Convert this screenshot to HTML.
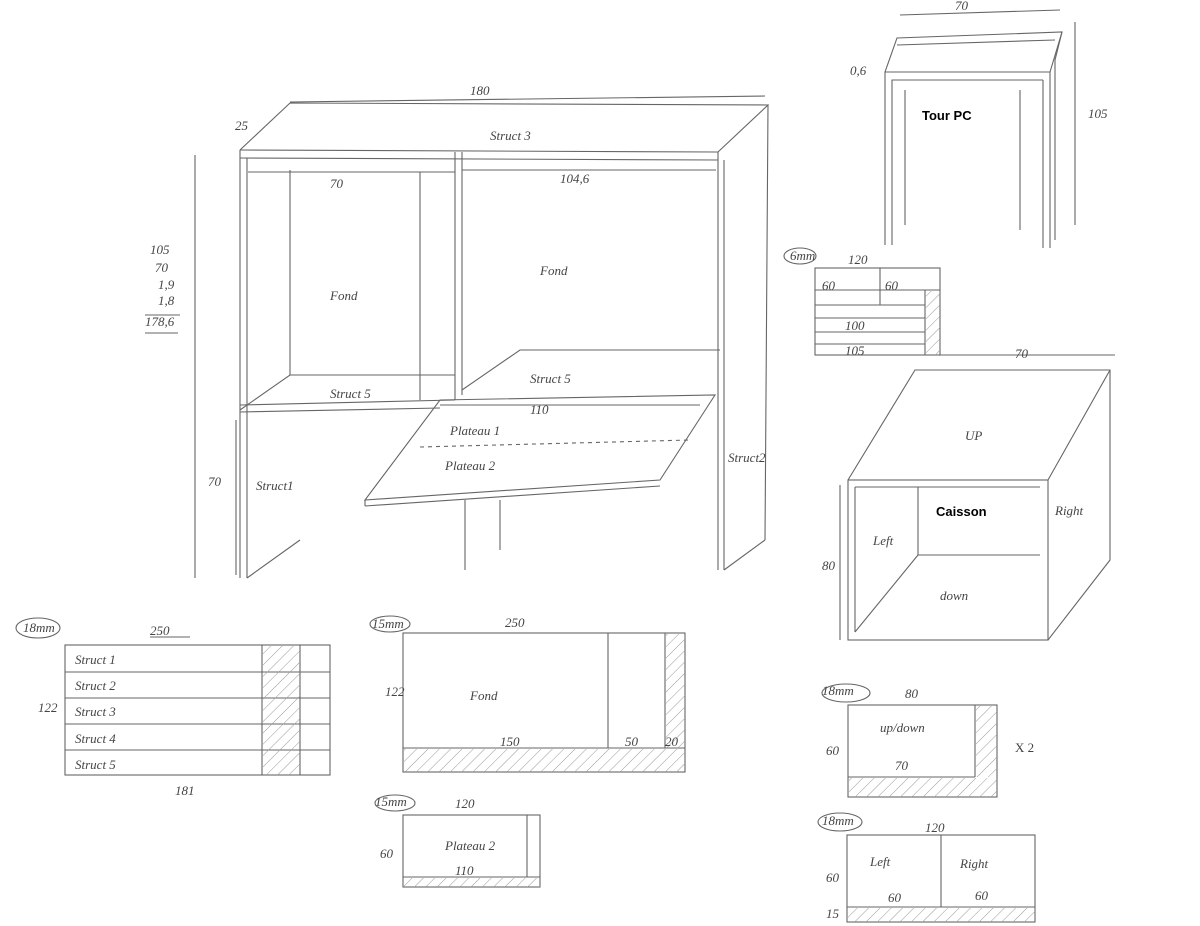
<!DOCTYPE html>
<html><head><meta charset="utf-8"><style>
html,body{margin:0;padding:0;background:#fff;width:1200px;height:926px;overflow:hidden}
svg{display:block}
text{font-family:"Liberation Serif",serif;font-style:italic;fill:#444;font-size:13px}
.b{font-family:"Liberation Sans",sans-serif;font-style:normal;font-weight:bold;fill:#000;font-size:13px}
</style></head><body>
<svg width="1200" height="926" viewBox="0 0 1200 926" xmlns="http://www.w3.org/2000/svg">
<defs>
<pattern id="h" width="8" height="8" patternUnits="userSpaceOnUse" patternTransform="rotate(45)"><line x1="0" y1="0" x2="0" y2="8" stroke="#999" stroke-width="1"/></pattern>
</defs>
<g stroke="#666" stroke-width="1.1" fill="none">
<!-- main desk -->
<polyline points="240,150 290,103 768,105 718,152"/>
<line x1="240" y1="150" x2="718" y2="152"/>
<line x1="240" y1="158" x2="718" y2="160"/>
<line x1="240" y1="150" x2="240" y2="578"/><line x1="247" y1="158" x2="247" y2="578"/>
<line x1="718" y1="152" x2="718" y2="570"/><line x1="724" y1="160" x2="724" y2="570"/>
<line x1="768" y1="105" x2="765" y2="540"/>
<line x1="455" y1="152" x2="455" y2="400"/><line x1="462" y1="152" x2="462" y2="395"/>
<line x1="290" y1="170" x2="290" y2="375"/>
<polyline points="240,410 290,375 455,375"/>
<line x1="240" y1="405" x2="455" y2="400"/>
<line x1="240" y1="412" x2="440" y2="408"/>
<polyline points="462,390 520,350 720,350"/>
<line x1="247" y1="578" x2="300" y2="540"/>
<line x1="724" y1="570" x2="765" y2="540"/>
<polygon points="440,400 715,395 660,480 365,500"/>
<line x1="365" y1="500" x2="365" y2="506"/><line x1="365" y1="506" x2="660" y2="486"/>
<line x1="420" y1="447" x2="690" y2="440" stroke-dasharray="4,4"/>
<line x1="465" y1="500" x2="465" y2="570"/><line x1="500" y1="500" x2="500" y2="550"/>
<!-- dims -->
<line x1="195" y1="155" x2="195" y2="578"/>
<line x1="290" y1="102" x2="765" y2="96"/>
<line x1="248" y1="172" x2="455" y2="172"/>
<line x1="462" y1="170" x2="716" y2="170"/>
<line x1="420" y1="172" x2="420" y2="400"/>
<line x1="236" y1="420" x2="236" y2="575"/>
<line x1="440" y1="405" x2="700" y2="405"/>
<line x1="145" y1="315" x2="180" y2="315"/><line x1="145" y1="333" x2="178" y2="333"/>
<!-- tour pc -->
<polyline points="885,245 885,72 1050,72 1050,248"/>
<polyline points="892,245 892,80 1043,80"/>
<line x1="1043" y1="80" x2="1043" y2="248"/>
<polyline points="885,72 897,38 1062,32 1055,60 1055,240"/>
<line x1="897" y1="45" x2="1055" y2="40"/>
<line x1="1050" y1="72" x2="1062" y2="32"/>
<line x1="1075" y1="22" x2="1075" y2="225"/>
<line x1="900" y1="15" x2="1060" y2="10"/>
<line x1="905" y1="225" x2="905" y2="90"/>
<line x1="1020" y1="90" x2="1020" y2="230"/>
<!-- small table top -->
<rect x="815" y="268" width="125" height="87"/>
<line x1="815" y1="290" x2="940" y2="290"/><line x1="815" y1="305" x2="925" y2="305"/>
<line x1="815" y1="318" x2="925" y2="318"/><line x1="815" y1="332" x2="925" y2="332"/>
<line x1="815" y1="344" x2="925" y2="344"/><line x1="880" y1="268" x2="880" y2="305"/>
<line x1="925" y1="290" x2="925" y2="355"/>
<!-- caisson -->
<rect x="848" y="480" width="200" height="160"/>
<polyline points="848,480 915,370 1110,370 1110,560 1048,640"/>
<line x1="1048" y1="480" x2="1110" y2="370"/>
<line x1="855" y1="487" x2="855" y2="632"/><line x1="855" y1="487" x2="1040" y2="487"/>
<line x1="918" y1="487" x2="918" y2="555"/><line x1="918" y1="555" x2="1040" y2="555"/>
<line x1="855" y1="632" x2="918" y2="555"/>
<line x1="840" y1="485" x2="840" y2="640"/>
<line x1="920" y1="355" x2="1115" y2="355"/>
<!-- 18mm table -->
<rect x="65" y="645" width="265" height="130"/>
<line x1="65" y1="672" x2="330" y2="672"/><line x1="65" y1="698" x2="330" y2="698"/>
<line x1="65" y1="724" x2="330" y2="724"/><line x1="65" y1="750" x2="330" y2="750"/>
<line x1="262" y1="645" x2="262" y2="775"/><line x1="300" y1="645" x2="300" y2="775"/>
<line x1="150" y1="637" x2="190" y2="637"/>
<!-- fond 15mm -->
<rect x="403" y="633" width="282" height="139"/>
<line x1="608" y1="633" x2="608" y2="748"/><line x1="403" y1="748" x2="685" y2="748"/>
<line x1="665" y1="633" x2="665" y2="748"/>
<!-- plateau 2 -->
<rect x="403" y="815" width="137" height="72"/>
<line x1="403" y1="877" x2="540" y2="877"/><line x1="527" y1="815" x2="527" y2="877"/>
<!-- up/down -->
<rect x="848" y="705" width="149" height="92"/>
<line x1="848" y1="777" x2="975" y2="777"/><line x1="975" y1="705" x2="975" y2="777"/>
<!-- left/right -->
<rect x="847" y="835" width="188" height="87"/>
<line x1="941" y1="835" x2="941" y2="907"/><line x1="847" y1="907" x2="1035" y2="907"/>
<ellipse cx="38" cy="628" rx="22" ry="10"/><ellipse cx="390" cy="624" rx="20" ry="8"/>
<ellipse cx="395" cy="803" rx="20" ry="8"/><ellipse cx="846" cy="693" rx="24" ry="9"/>
<ellipse cx="840" cy="822" rx="22" ry="9"/><ellipse cx="800" cy="256" rx="16" ry="8"/>
</g>
<g fill="url(#h)" stroke="none">
<rect x="263" y="646" width="37" height="129"/>
<rect x="404" y="749" width="281" height="23"/>
<rect x="666" y="634" width="19" height="114"/>
<rect x="404" y="878" width="136" height="9"/>
<rect x="849" y="778" width="148" height="19"/>
<rect x="976" y="706" width="21" height="71"/>
<rect x="848" y="908" width="187" height="14"/>
<rect x="926" y="291" width="14" height="64"/>
</g>
<text x="470" y="95">180</text><text x="330" y="188">70</text><text x="560" y="183">104,6</text>
<text x="490" y="140">Struct 3</text><text x="330" y="300">Fond</text><text x="540" y="275">Fond</text>
<text x="330" y="398">Struct 5</text><text x="530" y="383">Struct 5</text><text x="530" y="414">110</text>
<text x="450" y="435">Plateau 1</text><text x="445" y="470">Plateau 2</text>
<text x="208" y="486">70</text><text x="256" y="490">Struct1</text><text x="728" y="462">Struct2</text>
<text x="150" y="254">105</text><text x="155" y="272">70</text><text x="158" y="289">1,9</text>
<text x="158" y="305">1,8</text><text x="145" y="326">178,6</text>
<text x="235" y="130">25</text>
<text x="955" y="10">70</text><text x="1088" y="118">105</text><text x="850" y="75">0,6</text>
<text class="b" x="922" y="120">Tour PC</text>
<text x="822" y="290" font-size="11">60</text><text x="885" y="290" font-size="11">60</text>
<text x="848" y="264">120</text><text x="790" y="260" font-size="11">6mm</text>
<text x="845" y="330" font-size="10">100</text><text x="845" y="355" font-size="10">105</text>
<text x="1015" y="358">70</text><text x="965" y="440">UP</text>
<text class="b" x="936" y="516">Caisson</text><text x="873" y="545">Left</text>
<text x="940" y="600">down</text><text x="1055" y="515">Right</text><text x="822" y="570">80</text>
<text x="23" y="632">18mm</text><text x="150" y="635" font-size="15">250</text>
<text x="75" y="664">Struct 1</text><text x="75" y="690">Struct 2</text><text x="75" y="716">Struct 3</text>
<text x="75" y="743">Struct 4</text><text x="75" y="769">Struct 5</text><text x="38" y="712">122</text>
<text x="175" y="795" font-size="15">181</text>
<text x="372" y="628">15mm</text><text x="505" y="627" font-size="15">250</text>
<text x="385" y="696">122</text><text x="470" y="700">Fond</text><text x="500" y="746">150</text>
<text x="625" y="746">50</text><text x="665" y="746" font-size="10">20</text>
<text x="375" y="806">15mm</text><text x="455" y="808">120</text><text x="380" y="858">60</text>
<text x="445" y="850">Plateau 2</text><text x="455" y="875">110</text>
<text x="822" y="695">18mm</text><text x="905" y="698">80</text><text x="880" y="732">up/down</text>
<text x="895" y="770">70</text><text x="826" y="755">60</text>
<text x="1015" y="752" font-size="18" style="font-style:normal">X 2</text>
<text x="822" y="825">18mm</text><text x="925" y="832">120</text>
<text x="870" y="866">Left</text><text x="960" y="868">Right</text>
<text x="888" y="902" font-size="11">60</text><text x="975" y="900" font-size="11">60</text>
<text x="826" y="882">60</text><text x="826" y="918" font-size="11">15</text>
</svg>
</body></html>
